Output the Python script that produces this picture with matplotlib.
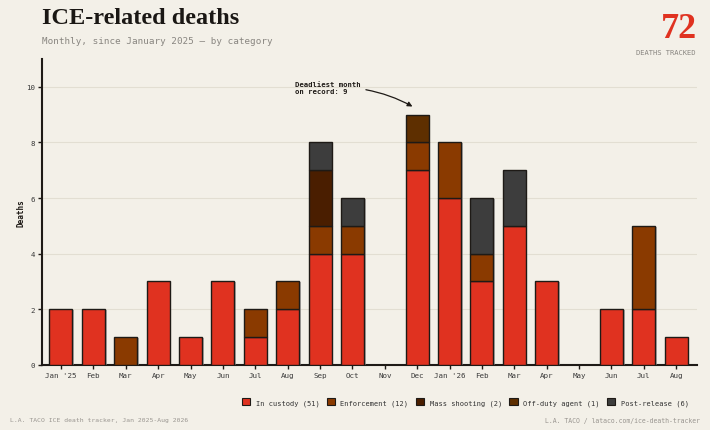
import matplotlib
matplotlib.use("Agg")
import matplotlib.pyplot as plt
import matplotlib.patheffects as pe
from matplotlib.patches import Patch
import numpy as np

months = ["Jan '25", "Feb", "Mar", "Apr", "May", "Jun", "Jul", "Aug", "Sep", "Oct", "Nov", "Dec",
          "Jan '26", "Feb", "Mar", "Apr", "May", "Jun", "Jul", "Aug"]
in_custody =   [2, 2, 0, 3, 1, 3, 1, 2, 4, 4, 0, 7, 6, 3, 5, 3, 0, 2, 2, 1]
enforcement =  [0, 0, 1, 0, 0, 0, 1, 1, 1, 1, 0, 1, 2, 1, 0, 0, 0, 0, 3, 0]
mass_shooting = [0, 0, 0, 0, 0, 0, 0, 0, 2, 0, 0, 0, 0, 0, 0, 0, 0, 0, 0, 0]
off_duty =     [0, 0, 0, 0, 0, 0, 0, 0, 0, 0, 0, 1, 0, 0, 0, 0, 0, 0, 0, 0]
post_release = [0, 0, 0, 0, 0, 0, 0, 0, 1, 1, 0, 0, 0, 2, 2, 0, 0, 0, 0, 0]

series = [
    ("In custody", in_custody, "#e03220"),
    ("Enforcement", enforcement, "#8a3a00"),
    ("Mass shooting", mass_shooting, "#4a1e00"),
    ("Off-duty agent", off_duty, "#5e2f00"),
    ("Post-release", post_release, "#3d3d3d"),
]

BG = "#f3f0e8"
MONO = "DejaVu Sans Mono"
EDGE = "#1e1a16"

fig = plt.figure(figsize=(7.1, 4.31), dpi=100, facecolor=BG)
ax = fig.add_axes([0.059, 0.151, 0.923, 0.710], facecolor=BG)

x = np.arange(len(months))
bottom = np.zeros(len(months))
shadow = [pe.SimplePatchShadow(offset=(1.2, -0.6), shadow_rgbFace="#888888", alpha=0.6), pe.Normal()]
handles = []
for name, vals, col in series:
    v = np.array(vals, dtype=float)
    total = int(v.sum())
    bars = ax.bar(x, v, 0.71, bottom=bottom, color=col, edgecolor=EDGE, linewidth=1.0, zorder=3)
    for b, val in zip(bars, v):
        if val == 0:
            b.set_visible(False)
        else:
            b.set_path_effects(shadow)
    handles.append(Patch(facecolor=col, edgecolor=EDGE, linewidth=0.8, label=f"{name} ({total})"))
    bottom += v

ax.set_xlim(-0.59, 19.65)
ax.set_ylim(0, 11)
ax.set_yticks([0, 2, 4, 6, 8, 10])
ax.set_xticks(x)
ax.set_xticklabels(months)
ax.grid(axis="y", color="#e2ded2", linewidth=0.8, zorder=0)
ax.set_axisbelow(True)
for s in ["top", "right"]:
    ax.spines[s].set_visible(False)
for s in ["left", "bottom"]:
    ax.spines[s].set_linewidth(1.5)
    ax.spines[s].set_color(EDGE)
ax.tick_params(axis="both", length=3, width=1, color=EDGE, labelsize=5.4, labelcolor="#3a3a3a", pad=2)
for lbl in ax.get_xticklabels() + ax.get_yticklabels():
    lbl.set_family(MONO)
ax.set_ylabel("Deaths", fontsize=5.6, fontweight="bold", family=MONO, color=EDGE)
ax.yaxis.set_label_coords(-16/655, 0.5)

# annotation
ax.annotate("Deadliest month\non record: 9", xy=(10.93, 9.24), xytext=(7.22, 9.97),
            fontsize=5.2, fontweight="bold", family=MONO, color=EDGE, va="center", ha="left",
            linespacing=1.3,
            arrowprops=dict(arrowstyle="-|>", color=EDGE, lw=0.9, mutation_scale=7,
                            connectionstyle="arc3,rad=-0.15", shrinkA=2, shrinkB=2))

# titles
fig.text(42/710, 1 - 18/431, "ICE-related deaths", fontsize=17.5, fontweight="bold",
         family="Liberation Serif", color="#1a1714", va="center", ha="left")
fig.text(42/710, 1 - 42/431, "Monthly, since January 2025 — by category", fontsize=6.7,
         family=MONO, color="#888580", va="center", ha="left")
fig.text(697/710, 1 - 29/431, "72", fontsize=26, fontweight="bold", family="Liberation Serif",
         color="#e03220", va="center", ha="right")
fig.text(696/710, 1 - 53/431, "DEATHS TRACKED", fontsize=5.1, family=MONO, color="#888580",
         va="center", ha="right")

# legend
leg = fig.legend(handles=handles, loc="center right", bbox_to_anchor=(695/710, 1 - 403/431), ncol=5,
                 frameon=False, prop={"family": MONO, "size": 5.0}, handlelength=1.2, handleheight=1.2,
                 handletextpad=0.8, columnspacing=1.05)
for t in leg.get_texts():
    t.set_color("#333333")

fig.text(10/710, 1 - 421/431, "L.A. TACO ICE death tracker, Jan 2025-Aug 2026", fontsize=4.6,
         family=MONO, color="#999590", va="center", ha="left")
fig.text(700/710, 1 - 421/431, "L.A. TACO / lataco.com/ice-death-tracker", fontsize=4.7,
         family=MONO, color="#999590", va="center", ha="right")

fig.savefig("out.png", dpi=100, facecolor=BG)
